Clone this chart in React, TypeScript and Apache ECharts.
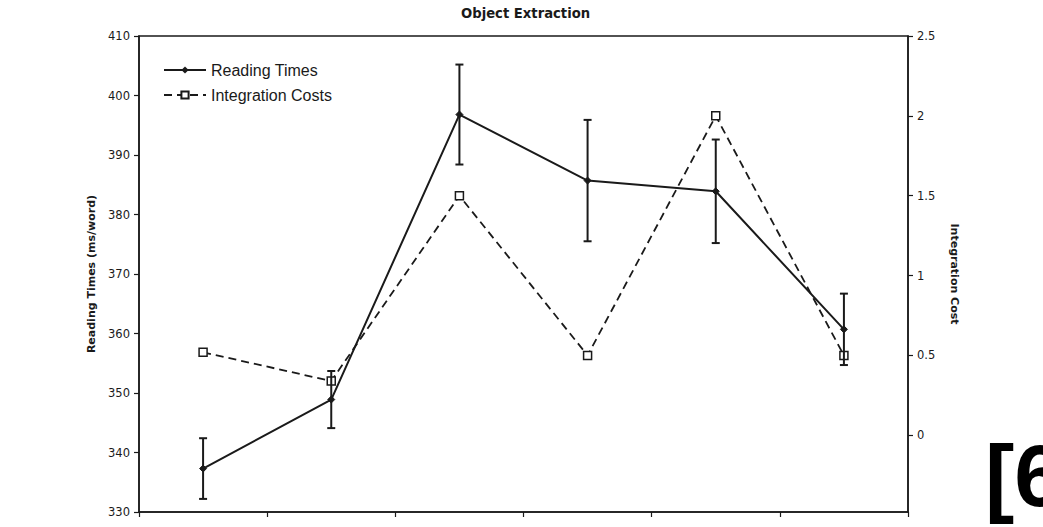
import React, { useEffect, useRef } from "react";
import * as echarts from "echarts";

// Six sentence regions (no labels are printed on the x axis)
const positions = ["1", "2", "3", "4", "5", "6"];

// Mean reading times (ms/word) with their error margins
const readingTimes = [337.3, 348.9, 396.8, 385.7, 383.9, 360.7];
const readingErrors = [5.1, 4.8, 8.4, 10.2, 8.7, 6.0];

// Predicted integration costs
const integrationCosts = [0.52, 0.34, 1.5, 0.5, 2.0, 0.5];

// Tick values of the secondary axis
const costTicks = [0, 0.5, 1, 1.5, 2, 2.5];

const FONT = "DejaVu Sans";
const INK = "#1a1a1a";

export default function App() {
  const ref = useRef<HTMLDivElement>(null);

  useEffect(() => {
    if (!ref.current) return;
    const chart = echarts.init(ref.current, undefined, { renderer: "svg" });

    const option: any = {
      animation: false,
      backgroundColor: "#ffffff",
      title: {
        text: "Object Extraction",
        left: 456,
        top: 2,
        textStyle: { fontFamily: FONT, fontWeight: "bold", fontSize: 13.2, color: INK },
      },
      legend: {
        data: ["Reading Times", "Integration Costs"],
        orient: "vertical",
        left: 163,
        top: 62,
        padding: 0,
        itemWidth: 42,
        itemHeight: 9,
        itemGap: 9,
        textStyle: { fontFamily: "Liberation Sans", fontSize: 16, color: INK },
      },
      grid: {
        left: 139,
        right: 135,
        top: 36,
        bottom: 15,
        show: true,
        borderColor: INK,
        borderWidth: 1.5,
        backgroundColor: "transparent",
      },
      xAxis: {
        type: "category",
        data: positions,
        boundaryGap: true,
        axisLine: { onZero: false, lineStyle: { color: INK, width: 1.5 } },
        axisTick: { show: true, length: 5, lineStyle: { color: INK, width: 1.2 } },
        axisLabel: { show: false },
        splitLine: { show: false },
      },
      yAxis: [
        {
          type: "value",
          min: 330,
          max: 410,
          interval: 10,
          name: "Reading Times (ms/word)",
          nameLocation: "middle",
          nameGap: 42,
          nameTextStyle: { fontFamily: FONT, fontWeight: "bold", fontSize: 11, color: INK },
          axisLine: { show: true, lineStyle: { color: INK, width: 1.5 } },
          axisTick: { show: true, length: 5, lineStyle: { color: INK, width: 1.2 } },
          axisLabel: { fontFamily: FONT, fontSize: 11.5, color: INK, margin: 9 },
          splitLine: { show: false },
        },
        {
          type: "value",
          min: -0.48,
          max: 2.5,
          position: "right",
          name: "Integration Cost",
          nameLocation: "middle",
          nameRotate: -90,
          nameGap: 41,
          nameTextStyle: { fontFamily: FONT, fontWeight: "bold", fontSize: 11, color: INK },
          axisLine: { show: true, lineStyle: { color: INK, width: 1.5 } },
          axisTick: {
            show: true,
            length: 5,
            customValues: costTicks,
            lineStyle: { color: INK, width: 1.2 },
          },
          axisLabel: {
            fontFamily: FONT,
            fontSize: 11.5,
            color: INK,
            margin: 9,
            customValues: costTicks,
          },
          splitLine: { show: false },
        },
      ],
      series: [
        {
          name: "Integration Costs",
          type: "line",
          yAxisIndex: 1,
          data: integrationCosts,
          symbol: "rect",
          symbolSize: 8,
          itemStyle: { color: "#ffffff", borderColor: INK, borderWidth: 1.5 },
          lineStyle: { color: INK, width: 1.8, type: [8, 5] },
          z: 2,
        },
        {
          name: "Reading Times",
          type: "line",
          yAxisIndex: 0,
          data: readingTimes,
          symbol: "diamond",
          symbolSize: 7,
          itemStyle: { color: INK, borderColor: INK },
          lineStyle: { color: INK, width: 2 },
          z: 4,
        },
        {
          name: "Reading Time Error",
          type: "custom",
          yAxisIndex: 0,
          z: 3,
          data: readingTimes.map((v, i) => [i, v - readingErrors[i], v + readingErrors[i]]),
          encode: { x: 0, y: [1, 2] },
          renderItem: (_params: any, api: any) => {
            const lo = api.coord([api.value(0), api.value(1)]);
            const hi = api.coord([api.value(0), api.value(2)]);
            const hw = 4;
            const style = { stroke: INK, lineWidth: 2 };
            return {
              type: "group",
              children: [
                { type: "line", shape: { x1: lo[0], y1: lo[1], x2: hi[0], y2: hi[1] }, style },
                { type: "line", shape: { x1: lo[0] - hw, y1: lo[1], x2: lo[0] + hw, y2: lo[1] }, style },
                { type: "line", shape: { x1: hi[0] - hw, y1: hi[1], x2: hi[0] + hw, y2: hi[1] }, style },
              ],
            };
          },
        },
      ],
      graphic: [
        {
          type: "text",
          left: 985,
          top: 431,
          style: {
            text: "[6",
            fontFamily: "'Liberation Sans Narrow', 'Liberation Sans'",
            fontWeight: "bold",
            fontSize: 88,
            fill: "#000000",
          },
        },
      ],
    };

    chart.setOption(option);
    return () => chart.dispose();
  }, []);

  return (
    <div
      ref={ref}
      style={{ position: "absolute", left: 0, top: 0, width: 1043, height: 527, background: "#fff" }}
    />
  );
}
